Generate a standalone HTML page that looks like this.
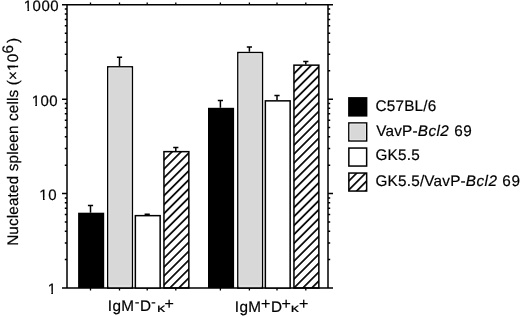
<!DOCTYPE html>
<html><head><meta charset="utf-8"><style>
html,body{margin:0;padding:0;background:#fff;width:520px;height:317px;overflow:hidden}
svg{display:block;filter:grayscale(1)}
</style></head><body>
<svg width="520" height="317" viewBox="0 0 520 317">
<defs>
<pattern id="hatch1" patternUnits="userSpaceOnUse" width="6.314" height="6.314" patternTransform="translate(315.0,0) rotate(45)"><rect x="0" y="0" width="0.850" height="6.314" fill="#000"/><rect x="5.464" y="0" width="0.850" height="6.314" fill="#000"/></pattern>
<pattern id="hatch2" patternUnits="userSpaceOnUse" width="6.314" height="6.314" patternTransform="translate(358.7,0) rotate(45)"><rect x="0" y="0" width="0.850" height="6.314" fill="#000"/><rect x="5.464" y="0" width="0.850" height="6.314" fill="#000"/></pattern>
<pattern id="hatchL" patternUnits="userSpaceOnUse" width="6.314" height="6.314" patternTransform="translate(520.9,0) rotate(45)"><rect x="0" y="0" width="0.850" height="6.314" fill="#000"/><rect x="5.464" y="0" width="0.850" height="6.314" fill="#000"/></pattern>
</defs>
<rect width="520" height="317" fill="#fff"/>
<path d="M62,4.8H333M62,288.00000000000006H333M67,4.8V288.00000000000006M328,4.8V288.00000000000006" stroke="#000" stroke-width="1.5" fill="none"/>
<path d="M62,99.20H67M328,99.20H333M62,193.60H67M328,193.60H333M64.8,259.58H67M328,259.58H330.2M64.8,242.96H67M328,242.96H330.2M64.8,231.17H67M328,231.17H330.2M64.8,222.02H67M328,222.02H330.2M64.8,214.54H67M328,214.54H330.2M64.8,208.22H67M328,208.22H330.2M64.8,202.75H67M328,202.75H330.2M64.8,197.92H67M328,197.92H330.2M64.8,165.18H67M328,165.18H330.2M64.8,148.56H67M328,148.56H330.2M64.8,136.77H67M328,136.77H330.2M64.8,127.62H67M328,127.62H330.2M64.8,120.14H67M328,120.14H330.2M64.8,113.82H67M328,113.82H330.2M64.8,108.35H67M328,108.35H330.2M64.8,103.52H67M328,103.52H330.2M64.8,70.78H67M328,70.78H330.2M64.8,54.16H67M328,54.16H330.2M64.8,42.37H67M328,42.37H330.2M64.8,33.22H67M328,33.22H330.2M64.8,25.74H67M328,25.74H330.2M64.8,19.42H67M328,19.42H330.2M64.8,13.95H67M328,13.95H330.2M64.8,9.12H67M328,9.12H330.2" stroke="#000" stroke-width="1.5" fill="none"/>
<path d="M90.5,4.8V2.4M90.5,288.00000000000006V290.40000000000003M119.5,4.8V2.4M119.5,288.00000000000006V290.40000000000003M147.2,4.8V2.4M147.2,288.00000000000006V290.40000000000003M175.8,4.8V2.4M175.8,288.00000000000006V290.40000000000003M220.4,4.8V2.4M220.4,288.00000000000006V290.40000000000003M249.4,4.8V2.4M249.4,288.00000000000006V290.40000000000003M277.0,4.8V2.4M277.0,288.00000000000006V290.40000000000003M305.8,4.8V2.4M305.8,288.00000000000006V290.40000000000003" stroke="#000" stroke-width="1.3" fill="none"/>
<path d="M90.5,212.7V205.5M87.9,205.5H93.1" stroke="#000" stroke-width="1.5" fill="none"/>
<rect x="78.1" y="212.7" width="26.10" height="75.30" fill="#000"/>
<path d="M119.5,66.1V57.3M116.9,57.3H122.1" stroke="#000" stroke-width="1.5" fill="none"/>
<rect x="107.75" y="66.85" width="24.60" height="221.15" fill="#d8d8d8" stroke="#000" stroke-width="1.5"/>
<rect x="109.00" y="68.10" width="22.10" height="217.90" fill="none" stroke="#e8e8e8" stroke-width="1"/>
<path d="M147.2,214.9V214.2M144.6,214.2H149.79999999999998" stroke="#000" stroke-width="1.5" fill="none"/>
<rect x="135.35" y="215.65" width="24.80" height="72.35" fill="#fff" stroke="#000" stroke-width="1.5"/>
<path d="M175.8,150.9V147.6M173.20000000000002,147.6H178.4" stroke="#000" stroke-width="1.5" fill="none"/>
<rect x="163.95" y="151.65" width="24.90" height="136.35" fill="url(#hatch1)" stroke="#000" stroke-width="1.5"/>
<path d="M220.4,107.8V100.6M217.8,100.6H223.0" stroke="#000" stroke-width="1.5" fill="none"/>
<rect x="208.0" y="107.8" width="26.10" height="180.20" fill="#000"/>
<path d="M249.4,51.8V47.0M246.8,47.0H252.0" stroke="#000" stroke-width="1.5" fill="none"/>
<rect x="237.85" y="52.55" width="24.60" height="235.45" fill="#d8d8d8" stroke="#000" stroke-width="1.5"/>
<rect x="239.10" y="53.80" width="22.10" height="232.20" fill="none" stroke="#e8e8e8" stroke-width="1"/>
<path d="M277.0,100.1V95.6M274.4,95.6H279.6" stroke="#000" stroke-width="1.5" fill="none"/>
<rect x="265.35" y="100.85" width="24.80" height="187.15" fill="#fff" stroke="#000" stroke-width="1.5"/>
<path d="M305.8,64.4V61.4M303.2,61.4H308.40000000000003" stroke="#000" stroke-width="1.5" fill="none"/>
<rect x="293.95" y="65.15" width="24.90" height="222.85" fill="url(#hatch2)" stroke="#000" stroke-width="1.5"/>
<rect x="348.1" y="97.1" width="19.3" height="19.5" fill="#000"/>
<rect x="348.85" y="122.95" width="17.80" height="18.00" fill="#d8d8d8" stroke="#000" stroke-width="1.5"/>
<rect x="350.10" y="124.20" width="15.30" height="15.50" fill="none" stroke="#e8e8e8" stroke-width="1"/>
<rect x="348.85" y="148.05" width="17.80" height="18.00" fill="#fff" stroke="#000" stroke-width="1.5"/>
<rect x="348.85" y="173.05" width="17.80" height="18.00" fill="url(#hatchL)" stroke="#000" stroke-width="1.5"/>
<g font-family="Liberation Sans, sans-serif" fill="#000" stroke="#000" stroke-width="0.19" text-rendering="geometricPrecision" style="white-space:pre">
<text y="11" font-size="15"><tspan x="23.81 32.6 41.42 50.23">1000</tspan></text>
<text y="106" font-size="15"><tspan x="31.66 40.45 49.27">100</tspan></text>
<text y="200" font-size="15"><tspan x="39.36 48.15">10</tspan></text>
<text y="294" font-size="15"><tspan x="47.66">1</tspan></text>
<text y="111" font-size="15.3"><tspan x="375.52 386.76 395.48 404.18 414.59 423.29 427.74">C57BL/6</tspan></text>
<text y="136" font-size="15.3"><tspan x="376.23 385.5 394.2 402.05 412.45">VavP-</tspan><tspan x="417.76 428.4 436.51 440.36" font-style="italic">Bcl2</tspan><tspan x="449.33 454.17 463.28"> 69</tspan></text>
<text y="160" font-size="15.3"><tspan x="375.53 387.62 398.03 406.73 411.19">GK5.5</tspan></text>
<text y="186" font-size="15.3"><tspan x="375.53 387.62 398.03 406.73 411.19 419.89 424.34 433.61 442.31 450.16 460.56">GK5.5/VavP-</tspan><tspan x="465.87 476.51 484.62 488.47" font-style="italic">Bcl2</tspan><tspan x="497.44 502.28 511.39"> 69</tspan></text>
<text y="311" font-size="15.3"><tspan x="107.79 112.43 121.33">IgM</tspan></text>
<text y="311" font-size="15.3"><tspan x="140.04">D</tspan></text>
<text transform="translate(156.91 311.75) scale(1.06 0.76)" x="0" y="0" font-size="15.3"><tspan>κ</tspan></text>
<text y="309" font-size="16"><tspan x="164.62">+</tspan></text>
<text y="312" font-size="15.3"><tspan x="234.79 239.43 248.33">IgM</tspan></text>
<text y="309" font-size="16"><tspan x="261.12">+</tspan></text>
<text y="312" font-size="15.3"><tspan x="270.94">D</tspan></text>
<text y="309" font-size="16"><tspan x="281.52">+</tspan></text>
<text transform="translate(290.81 311.85) scale(1.06 0.76)" x="0" y="0" font-size="15.3"><tspan>κ</tspan></text>
<text y="309" font-size="16"><tspan x="299.12">+</tspan></text>
<text transform="translate(17.65 244.6) rotate(-90)" y="0" font-size="15.3"><tspan x="-1.26 9.93 18.59 26.37 29.92 38.57 47.23 51.62 60.28 68.92 73.32 81.1 89.76 93.31 101.96 110.6 119.26 123.67 131.45 140.1 143.65 147.2 154.98 159.39 164.62 173.7 182.35">Nucleated spleen cells (×10</tspan></text>
<text transform="translate(17.65 244.6) rotate(-90)" y="-5.07" font-size="15.3"><tspan x="191.22">6</tspan></text>
<text transform="translate(17.65 244.6) rotate(-90)" y="0" font-size="15.3"><tspan x="201.71">)</tspan></text>
</g>
<path d="M135.3,302.9H138.9M151.6,302.9H155.3" stroke="#000" stroke-width="1.2"/>
<g fill="#fff"><rect x="23.91" y="8.4" width="3.5" height="4.2"/><rect x="29.11" y="8.4" width="3.2" height="4.2"/><rect x="31.76" y="103.4" width="3.5" height="4.2"/><rect x="36.96" y="103.4" width="3.2" height="4.2"/><rect x="39.46" y="197.4" width="3.5" height="4.2"/><rect x="44.66" y="197.4" width="3.2" height="4.2"/><rect x="47.76" y="291.4" width="3.5" height="4.2"/><rect x="52.96" y="291.4" width="3.2" height="4.2"/><g transform="translate(17.65 244.6) rotate(-90)"><rect x="173.8" y="-2.6" width="3.5" height="4.2"/><rect x="179" y="-2.6" width="3.2" height="4.2"/></g></g>
</svg>
</body></html>
